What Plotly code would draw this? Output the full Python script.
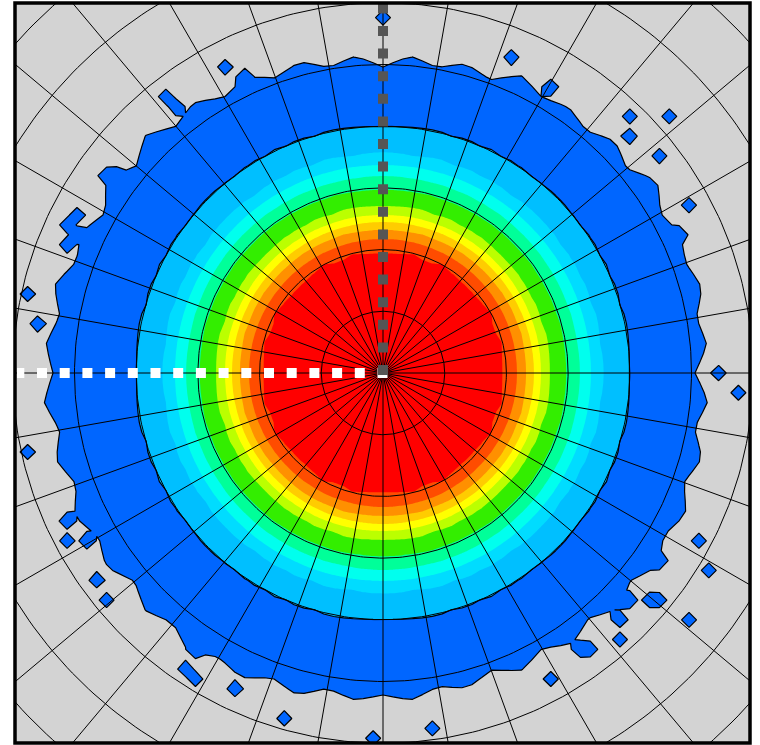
import numpy as np
import plotly.graph_objects as go

# ---------------- data ----------------
U = 61.7  # pixels per polar grid ring (used to convert readings)

level_colors = ["#d3d3d3", "#0066ff", "#00bfff", "#00dcff", "#00ffee", "#00ff99",
                "#33ee00", "#bbff00", "#ffff00", "#ffcc00", "#ff9000", "#ff4c00", "#ff0000"]
# radius (px) of the boundary between level k (outside) and k+1 (inside), k = 1..11
bound_px = [246, 219, 208, 197, 184, 166, 158, 151, 144, 134, 124]

# outer edge (gray / blue boundary) radius in px, every 5 degrees of polar angle
edge_deg = list(range(0, 360, 5))
edge_px = [312, 325, 318, 330, 322, 328, 320, 335, 318, 328, 316, 324,
           318, 328, 312, 320, 310, 318, 306, 318, 310, 322, 314, 326,
           318, 330, 322, 336, 322, 338, 320, 333, 326, 340, 328, 338,
           330, 340, 328, 338, 326, 340, 328, 338, 324, 336, 326, 340,
           328, 336, 324, 333, 320, 328, 322, 328, 318, 326, 316, 328,
           318, 330, 320, 333, 323, 336, 324, 334, 320, 330, 316, 326]

# isolated blue specks outside the main ring (pixel positions in the picture)
island_px_x = [226, 243, 170, 175, 102, 113, 77, 67, 77, 515, 552, 626, 669, 632, 657, 693, 682,
               65, 70, 83, 98, 110, 194, 188, 200, 232, 697, 712, 663, 693, 618, 632, 645, 657,
               616, 616, 577, 588, 552, 385, 720, 740, 30, 40, 65, 30, 280, 370, 430]
island_px_y = [66, 77, 97, 108, 177, 175, 213, 227, 238, 60, 90, 121, 121, 139, 157, 207, 237,
               517, 540, 542, 580, 598, 652, 670, 677, 685, 542, 571, 565, 615, 597, 597, 602, 597,
               621, 639, 652, 645, 682, 22, 372, 395, 295, 325, 240, 450, 715, 735, 725]

CX, CY = 383, 373  # picture centre of the polar plot

# ---------------- build the field ----------------
step = 0.16
xs = np.arange(-6.4, 6.4 + 1e-9, step)
ys = np.arange(-6.4, 6.4 + 1e-9, step)
X, Y = np.meshgrid(xs, ys)
R = np.hypot(X, Y) * U
TH = np.degrees(np.arctan2(Y, X)) % 360

edge = np.interp(TH, edge_deg + [360], edge_px + [edge_px[0]])
r_nodes = [0] + bound_px[::-1]
v_nodes = [12.5] + [k + 0.5 for k in range(11, 0, -1)]
V = np.interp(R, r_nodes, v_nodes)
outer = R > bound_px[0]
V_out = 1.5 - (R - bound_px[0]) / (edge - bound_px[0])
V = np.where(outer, V_out, V)
V = np.maximum(V, 0.2)

for px, py in zip(island_px_x, island_px_y):
    dx = (px - CX) / U
    dy = (CY - py) / U
    i = int(round((dx - xs[0]) / step))
    j = int(round((dy - ys[0]) / step))
    if 0 <= i < len(xs) and 0 <= j < len(ys):
        V[j, i] = max(V[j, i], 1.45)

n = len(level_colors) - 1
colorscale = [[k / n, c] for k, c in enumerate(level_colors)]

fig = go.Figure()
fig.add_trace(go.Contour(
    x=xs, y=ys, z=V, autocontour=False,
    contours=dict(start=0.5, end=11.5, size=1, coloring="fill", showlines=False),
    colorscale=colorscale, showscale=False, line=dict(width=0, smoothing=0),
    hoverinfo="skip"))
fig.add_trace(go.Contour(
    x=xs, y=ys, z=V, autocontour=False,
    contours=dict(start=0.5, end=1.5, size=1, coloring="none"),
    line=dict(color="black", width=1.2, smoothing=0), showscale=False,
    hoverinfo="skip"))

# polar grid: rings every unit, spokes every 10 degrees
gx, gy = [], []
t = np.linspace(0, 2 * np.pi, 361)
for k in range(1, 10):
    gx += list(k * np.cos(t)) + [None]
    gy += list(k * np.sin(t)) + [None]
for a in range(0, 360, 10):
    gx += [0, 9.5 * np.cos(np.radians(a)), None]
    gy += [0, 9.5 * np.sin(np.radians(a)), None]
fig.add_trace(go.Scatter(x=gx, y=gy, mode="lines", line=dict(color="black", width=1),
                         hoverinfo="skip", showlegend=False))

# dashed reference lines
fig.add_trace(go.Scatter(x=[4.5 / U, -366 / U], y=[0, 0], mode="lines",
                         line=dict(color="white", width=10, dash="10px,12.7px"),
                         hoverinfo="skip", showlegend=False))
fig.add_trace(go.Scatter(x=[0, 0], y=[-2 / U, 372 / U], mode="lines",
                         line=dict(color="#555555", width=10, dash="10px,12.6px"),
                         hoverinfo="skip", showlegend=False))

fig.update_layout(
    width=760, height=745,
    margin=dict(l=15, r=10, t=3, b=2),
    paper_bgcolor="white", plot_bgcolor="#d3d3d3",
    showlegend=False,
    xaxis=dict(range=[-368 / U, 367 / U], visible=False, fixedrange=True),
    yaxis=dict(range=[-370 / U, 370 / U], visible=False, fixedrange=True),
    shapes=[dict(type="rect", xref="paper", yref="paper", x0=0, y0=0, x1=1, y1=1,
                 line=dict(color="black", width=3.5), layer="above")],
)
fig.write_html("out.html")
